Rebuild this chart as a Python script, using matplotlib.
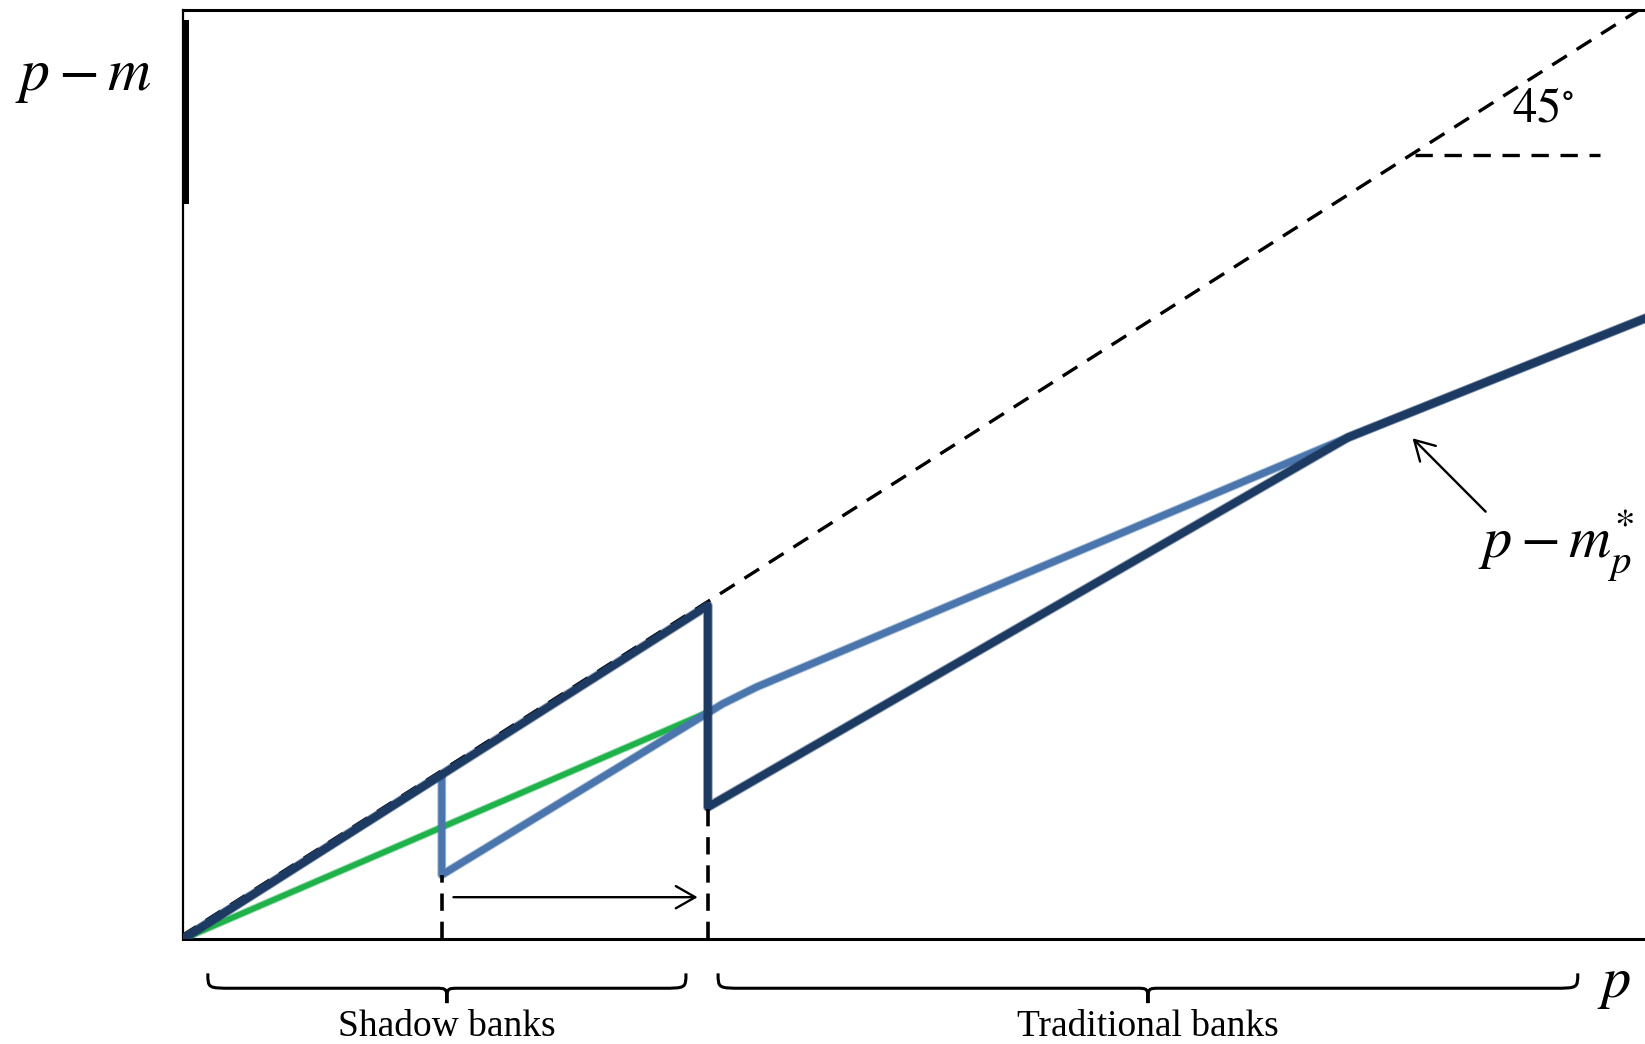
import matplotlib
matplotlib.use("Agg")
import matplotlib.pyplot as plt
import matplotlib.patheffects as pe
from matplotlib.path import Path
from matplotlib.patches import PathPatch
from matplotlib import transforms

plt.rcParams["font.family"] = ["Liberation Serif", "DejaVu Serif"]
plt.rcParams["mathtext.fontset"] = "stix"

# p on the horizontal axis, p - m on the vertical axis (both scaled to [0, 1])
thresholds = [0.177, 0.359]          # shadow-bank cutoffs before / after the shift

p_dark = [0.0, 0.359, 0.359, 0.797, 1.0]
pm_dark = [0.0, 0.359, 0.142, 0.540, 0.668]

p_light = [0.0, 0.177, 0.177, 0.369, 0.392, 0.797, 1.0]
pm_light = [0.0, 0.177, 0.069, 0.253, 0.271, 0.540, 0.668]

p_green = [0.0, 0.359]
pm_green = [0.0, 0.244]

diag_p = [0.0, 1.0]                  # 45-degree line p - m = p

segment_labels = ["Shadow banks", "Traditional banks"]

DARK = "#1d3a62"
LIGHT = "#4a76ad"
GREEN = "#1fb24b"

fig = plt.figure(figsize=(16.45, 10.44), dpi=100)
ax = fig.add_axes([183 / 1645, 1 - 939 / 1044, 1462 / 1645, 929 / 1044])
ax.set_xlim(0, 1)
ax.set_ylim(0, 1)
ax.set_xticks([])
ax.set_yticks([])
ax.spines["right"].set_visible(False)
for side in ("top", "bottom"):
    ax.spines[side].set_linewidth(2.2)
ax.spines["left"].set_linewidth(1.6)


def soft(lw, color):
    return [pe.Stroke(linewidth=lw + 1.4, foreground=color, alpha=0.45), pe.Normal()]


# 45-degree reference line, nudged so it peeks above the dark curve
diag_tr = transforms.offset_copy(ax.transData, fig=fig, x=-1.5, y=3.0, units="dots")
ax.plot(diag_p, diag_p, color="black", lw=2.4, ls=(0, (5.2, 3.5)),
        transform=diag_tr, zorder=2)

ax.plot(p_green, pm_green, color=GREEN, lw=4.0, solid_capstyle="butt",
        path_effects=soft(4.0, GREEN), zorder=3)
ax.plot(p_light, pm_light, color=LIGHT, lw=5.0, solid_joinstyle="round",
        path_effects=soft(5.0, LIGHT), zorder=4)
ax.plot(p_dark, pm_dark, color=DARK, lw=5.6, solid_joinstyle="round",
        path_effects=soft(5.6, DARK), zorder=5)

# dashed drops from the jump points to the p axis
ax.plot([thresholds[0]] * 2, [0, pm_light[2]], color="black", lw=2.6,
        ls=(0, (4.8, 3.0)), zorder=6)
ax.plot([thresholds[1]] * 2, [0, pm_dark[2]], color="black", lw=2.6,
        ls=(0, (4.8, 3.0)), zorder=6)

# shift of the cutoff
ax.annotate("", xy=(thresholds[1] - 0.007, 0.045), xytext=(thresholds[0] + 0.008, 0.045),
            arrowprops=dict(arrowstyle="->,head_length=0.7,head_width=0.4",
                            lw=1.7, color="black", mutation_scale=20,
                            shrinkA=0, shrinkB=0))

# 45 degree marker
ax.plot([0.843, 0.969], [0.844, 0.844], color="black", lw=2.4,
        ls=(0, (5.2, 3.5)), zorder=2)
ax.text(0.930, 0.893, r"$45^{\circ}$", fontsize=35, ha="center", va="center")

# label for the equilibrium curve
ax.annotate("", xy=(0.841, 0.539), xytext=(0.891, 0.460),
            arrowprops=dict(arrowstyle="->,head_length=0.7,head_width=0.4",
                            lw=1.7, color="black", mutation_scale=20,
                            shrinkA=0, shrinkB=0))
ax.text(0.886, 0.411, r"$p-m_p^{*}$", fontsize=42, ha="left", va="baseline",
        clip_on=False)

# axis labels
fig.text(15 / 1645, 1 - 90 / 1044, r"$p-m$", fontsize=43, ha="left", va="baseline")
fig.text(1597 / 1645, 1 - 997 / 1044, r"$p$", fontsize=42, ha="left", va="baseline")

# heavy tick on the vertical axis near the label
fig.add_artist(plt.Line2D([186 / 1645, 186 / 1645], [1 - 22 / 1044, 1 - 201 / 1044],
                          color="black", lw=3.6, transform=fig.transFigure))


def brace(x0, x1, ytop, ybar, ytip, r=0.017, rt=0.008):
    xm = 0.5 * (x0 + x1)
    verts = [
        (x0, ytop), (x0, ybar), (x0, ybar), (x0 + r, ybar),
        (xm - rt, ybar),
        (xm, ybar), (xm, ybar), (xm, ytip),
        (xm, ybar), (xm, ybar), (xm + rt, ybar),
        (x1 - r, ybar),
        (x1, ybar), (x1, ybar), (x1, ytop),
    ]
    codes = [Path.MOVETO, Path.CURVE4, Path.CURVE4, Path.CURVE4,
             Path.LINETO,
             Path.CURVE4, Path.CURVE4, Path.CURVE4,
             Path.CURVE4, Path.CURVE4, Path.CURVE4,
             Path.LINETO,
             Path.CURVE4, Path.CURVE4, Path.CURVE4]
    patch = PathPatch(Path(verts, codes), fill=False, lw=2.2, color="black",
                      transform=ax.get_xaxis_transform(), clip_on=False)
    ax.add_patch(patch)
    return xm


spans = [(0.017, thresholds[1] - 0.015), (thresholds[1] + 0.007, 0.954)]
for (x0, x1), label in zip(spans, segment_labels):
    xm = brace(x0, x1, -0.037, -0.053, -0.069)
    ax.text(xm, -0.104, label, fontsize=27, ha="center", va="baseline",
            transform=ax.get_xaxis_transform(), clip_on=False)

fig.savefig("out.png", dpi=100)
